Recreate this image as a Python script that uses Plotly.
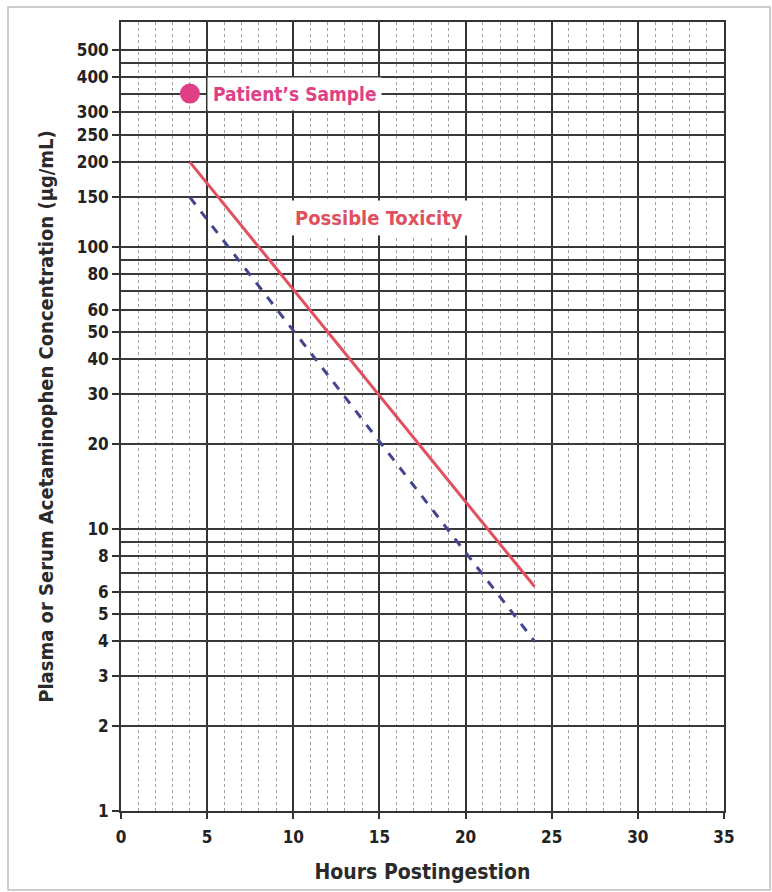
import math
import plotly.graph_objects as go

# ---- data ----
hours_line = [4, 24]
toxicity_line = [200, 6.25]          # "Possible Toxicity" (solid red)
lower_line = [150, 4]                # dashed blue line
patient_hours = [4]
patient_conc = [350]

x_ticks = [0, 5, 10, 15, 20, 25, 30, 35]
y_ticks = [1, 2, 3, 4, 5, 6, 8, 10, 20, 30, 40, 50, 60, 80, 100, 150, 200, 250, 300, 400, 500]
y_unlabeled_lines = [7, 9, 70, 90, 350, 450]

FONT = "Liberation Sans Narrow, DejaVu Sans Condensed, Arial Narrow, sans-serif"

fig = go.Figure()

fig.add_trace(go.Scatter(
    x=hours_line, y=toxicity_line, mode="lines",
    line=dict(color="#e0505e", width=3), showlegend=False, hoverinfo="skip"))
fig.add_trace(go.Scatter(
    x=hours_line, y=lower_line, mode="lines",
    line=dict(color="#45458f", width=3, dash="dash"), showlegend=False, hoverinfo="skip"))
fig.add_trace(go.Scatter(
    x=patient_hours, y=patient_conc, mode="markers",
    marker=dict(color="#e03f86", size=20), showlegend=False, hoverinfo="skip"))

fig.add_annotation(
    x=5, y=math.log10(350), xref="x", yref="y", xanchor="left", yanchor="middle",
    text="Patient\u2019s Sample", showarrow=False,
    font=dict(family=FONT, size=19, color="#e03f86", weight="bold"),
    bgcolor="white", borderpad=5)
fig.add_annotation(
    x=15, y=math.log10(127), xref="x", yref="y", xanchor="center", yanchor="middle",
    text="Possible Toxicity", showarrow=False,
    font=dict(family=FONT, size=20, color="#e0505e", weight="bold"),
    bgcolor="white", borderpad=5)

# outer light frame
fig.add_shape(type="rect", xref="paper", yref="paper",
              x0=-0.1874, x1=1.0763, y0=-0.1001, y1=1.019,
              line=dict(color="#bdbdbd", width=1.5), layer="below")

fig.update_xaxes(
    range=[0, 35], tickmode="array", tickvals=x_ticks,
    showgrid=True, gridcolor="#333333", gridwidth=1.8,
    showline=True, linecolor="#333333", linewidth=1.8, mirror=True,
    ticks="outside", ticklen=6, tickwidth=1.5, tickcolor="#333333",
    ticklabelstandoff=4,
    tickfont=dict(family=FONT, size=17, color="#222222", weight="bold"),
    minor=dict(dtick=1, showgrid=True, gridcolor="#a0a0a0", gridwidth=1, griddash="dot", ticks=""),
    zeroline=False,
    title=dict(text="Hours Postingestion", standoff=18,
               font=dict(family=FONT, size=21, color="#2a2a2a", weight="bold")))

fig.update_yaxes(
    type="log", range=[0, math.log10(628)], tickmode="array", tickvals=y_ticks,
    ticktext=[str(v) for v in y_ticks],
    showgrid=True, gridcolor="#3a3a3a", gridwidth=1.6,
    showline=True, linecolor="#333333", linewidth=1.8, mirror=True,
    ticks="outside", ticklen=7, tickwidth=1.5, tickcolor="#333333",
    tickfont=dict(family=FONT, size=17, color="#222222", weight="bold"),
    minor=dict(tickmode="array", tickvals=y_unlabeled_lines, showgrid=True,
               gridcolor="#3a3a3a", gridwidth=1.6, ticks=""),
    zeroline=False,
    title=dict(text="Plasma or Serum Acetaminophen Concentration (\u03bcg/mL)", standoff=18,
               font=dict(family=FONT, size=20, color="#2a2a2a", weight="bold")))

fig.update_layout(
    width=772, height=892,
    margin=dict(l=121, r=48, t=22, b=81, autoexpand=False),
    paper_bgcolor="white", plot_bgcolor="white",
    showlegend=False)

fig.write_html("out.html", config={"displayModeBar": False},
               post_script="document.body.style.margin='0';")
